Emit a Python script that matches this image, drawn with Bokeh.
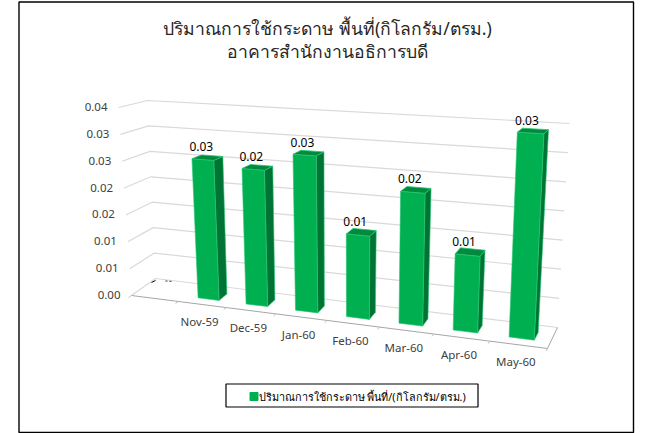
from bokeh.plotting import figure
from bokeh.embed import file_html
from bokeh.resources import INLINE
from bokeh.models import Range1d
from bokeh.core.properties import value as fixed

categories = ["", "Nov-59", "Dec-59", "Jan-60", "Feb-60", "Mar-60", "Apr-60", "May-60"]
usage = [None, 0.0258, 0.0247, 0.0280, 0.0146, 0.0229, 0.0130, 0.0344]
value_labels = [None, "0.03", "0.02", "0.03", "0.01", "0.02", "0.01", "0.03"]
tick_values = [0.0, 0.005, 0.01, 0.015, 0.02, 0.025, 0.03, 0.035]
tick_labels = ["0.00", "0.01", "0.01", "0.02", "0.02", "0.03", "0.03", "0.04"]
title_lines = ["ปริมาณการใช้กระดาษ พื้นที่(กิโลกรัม/ตรม.)", "อาคารสำนักงานอธิการบดี"]
legend_text = "ปริมาณการใช้กระดาษ พื้นที่/(กิโลกรัม/ตรม.)"

W, H = 652, 433
VMAX = 0.035
NCAT = len(categories)
# Corners of the 3-D box, in page pixels: (front/back, left/right, floor/top)
C = {
    "flb": (131, 295), "flt": (118, 107), "blb": (155, 278), "blt": (147, 100),
    "frb": (547, 348), "frt": (557, 134), "brb": (557, 327), "brt": (569, 123),
}

def lerp(a, b, f):
    return (a[0] + (b[0] - a[0]) * f, a[1] + (b[1] - a[1]) * f)

def project(cat, depth, val):
    """cat in category units, depth 0..1 front to back, val in data units."""
    t = cat / NCAT
    u = t / (1.13 - 0.13 * t)
    f = val / VMAX
    floor = lerp(lerp(C["flb"], C["frb"], u), lerp(C["blb"], C["brb"], u), depth)
    top = lerp(lerp(C["flt"], C["frt"], u), lerp(C["blt"], C["brt"], u), depth)
    x, y = lerp(floor, top, f)
    return x, H - y

p = figure(width=W, height=H, output_backend="svg", toolbar_location=None,
           x_range=Range1d(0, W), y_range=Range1d(0, H), min_border=0,
           background_fill_color="white", border_fill_color="white",
           outline_line_color=None)
p.axis.visible = False
p.grid.visible = False

def poly(pts, **kw):
    xs, ys = zip(*pts)
    p.patch(list(xs), list(ys), **kw)

# frame
p.quad(left=[18.5], right=[633], bottom=[H - 432], top=[H - 1.5], fill_color="white",
       line_color="black", line_width=1.4)

GRID = "#d9d9d9"
for v in tick_values:
    a, b, c = project(0, 0, v), project(0, 1, v), project(NCAT, 1, v)
    p.line([a[0], b[0], c[0]], [a[1], b[1], c[1]], line_color=GRID, line_width=1.2)
# floor
fl = [project(0, 0, 0), project(NCAT, 0, 0), project(NCAT, 1, 0)]
p.line([q[0] for q in fl], [q[1] for q in fl], line_color="#a6a6a6", line_width=1)
for k in range(NCAT + 1):
    a, b = project(k, 0, 0), project(k, -0.12, 0)
    p.line([a[0], b[0]], [a[1], b[1]], line_color="#bfbfbf", line_width=1)

# clipped remnant of the empty first category's label
p.line([151, 155], [H - 282, H - 280], line_color="black", line_width=1)
p.line([165, 173], [H - 280.5, H - 281], line_color="#203060", line_width=1, line_dash="2 2")

FONT = "Noto Sans"
# tick labels
for v, s in zip(tick_values, tick_labels):
    x, y = project(0, 0, v)
    p.text([x - 11], [y + 0.5], text=[s], text_font=fixed(FONT), text_font_size="11.5px",
           text_color="#404040", text_align="right", text_baseline="middle")
for i, s in enumerate(categories):
    x, y = project(i + 0.5, 0, 0)
    p.text([x - 2.5], [y - 17], text=[s], text_font=fixed(FONT), text_font_size="11.5px",
           text_color="#404040", text_align="center", text_baseline="middle")

# bars
HALF, D0, D1 = 0.22, 0.30, 0.67
FRONT, SIDE, TOP, EDGE = "#00b050", "#007434", "#008a3e", "#27c470"
for i, (v, s) in enumerate(zip(usage, value_labels)):
    if v is None:
        continue
    c0, c1 = i + 0.5 - HALF, i + 0.5 + HALF
    poly([project(c1, D0, 0), project(c1, D1, 0), project(c1, D1, v), project(c1, D0, v)],
         fill_color=SIDE, line_color=EDGE, line_width=0.6)
    poly([project(c0, D0, 0), project(c1, D0, 0), project(c1, D0, v), project(c0, D0, v)],
         fill_color=FRONT, line_color=EDGE, line_width=0.6)
    poly([project(c0, D0, v), project(c1, D0, v), project(c1, D1, v), project(c0, D1, v)],
         fill_color=TOP, line_color=EDGE, line_width=0.8)
    x, y = project(i + 0.5, 0.48, v)
    p.text([x - 6], [y + 11], text=[s], text_font=fixed(FONT), text_font_size="12px",
           text_color="black", text_align="center", text_baseline="middle")

# title
for s, ypx in zip(title_lines, [27.5, 50.5]):
    p.text([327], [H - ypx], text=[s], text_font=fixed(FONT), text_font_size="17.6px",
           text_color="#262626", text_align="center", text_baseline="middle")

# legend
p.quad(left=[225.5], right=[477.5], top=[H - 383.5], bottom=[H - 406.5],
       fill_color="white", line_color="black", line_width=1.2)
p.quad(left=[249.5], right=[257.5], top=[H - 392], bottom=[H - 400],
       fill_color=FRONT, line_color=FRONT)
p.text([258], [H - 396], text=[legend_text], text_font=fixed(FONT), text_font_size="10.8px",
       text_color="black", text_align="left", text_baseline="middle")

open("out.html", "w").write(file_html(p, INLINE))
